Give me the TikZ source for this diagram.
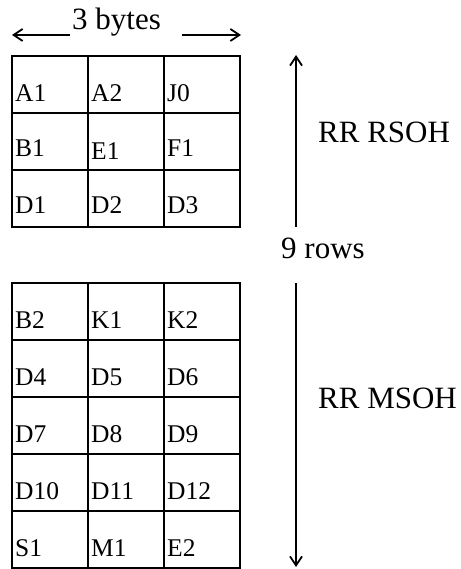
\documentclass[tikz,border=0pt]{standalone}
\usepackage{fontspec}
\setmainfont{Liberation Serif}
\usetikzlibrary{arrows.meta,calc}
\begin{document}
\begin{tikzpicture}[x=1pt,y=-1pt,
  cell/.style={draw, line width=2pt, minimum width=76pt, minimum height=57pt, inner sep=0pt, outer sep=0pt},
  lbl/.style={anchor=base west, inner sep=0pt, font=\fontsize{25.5}{26}\selectfont},
  big/.style={anchor=base west, inner sep=0pt, font=\fontsize{31}{32}\selectfont},
  arr/.style={line width=1.8pt, -{Straight Barb[length=9pt,width=12pt,line width=1.8pt]}}]
\useasboundingbox (0,0) rectangle (460,569);
% top grid
\foreach \r/\y/\a/\b/\c/\ea/\eb/\ec in {1/84.5/A1/A2/J0/11/11/11, 2/141.5/B1/E1/F1/13/10/13, 3/198.5/D1/D2/D3/14/14/14}{
  \node[cell] (t\r a) at (50,\y) {};
  \node[cell] (t\r b) at (126,\y) {};
  \node[cell] (t\r c) at (202,\y) {};
  \node[lbl] (lt\r a) at ($(t\r a.south west)+(3,-\ea)$) {\a};
  \node[lbl] (lt\r b) at ($(t\r b.south west)+(3,-\eb)$) {\b};
  \node[lbl] (lt\r c) at ($(t\r c.south west)+(3,-\ec)$) {\c};
}
% bottom grid
\foreach \r/\y/\a/\b/\c in {1/311.5/B2/K1/K2, 2/368.5/D4/D5/D6, 3/425.5/D7/D8/D9, 4/482.5/D10/D11/D12, 5/539.5/S1/M1/E2}{
  \node[cell] (b\r a) at (50,\y) {};
  \node[cell] (b\r b) at (126,\y) {};
  \node[cell] (b\r c) at (202,\y) {};
  \node[lbl] (lb\r a) at ($(b\r a.south west)+(3,-12)$) {\a};
  \node[lbl] (lb\r b) at ($(b\r b.south west)+(3,-12)$) {\b};
  \node[lbl] (lb\r c) at ($(b\r c.south west)+(3,-12)$) {\c};
}
% labels
\node[big] (bytes) at (72,30) {3 bytes};
\node[big] (rows) at (281,258) {9 rows};
\node[big] (rsoh) at (318,143) {RR RSOH};
\node[big] (msoh) at (318,408) {RR MSOH};
% arrows
\coordinate (l0) at (70,35);
\coordinate (l1) at (12,35);
\coordinate (r0) at (182,35);
\coordinate (r1) at (241,35);
\coordinate (u0) at (296,227);
\coordinate (u1) at (296,55);
\coordinate (d0) at (296,283);
\coordinate (d1) at (296,567);
\draw[arr] (l0) -- (l1);
\draw[arr] (r0) -- (r1);
\draw[arr] (u0) -- (u1);
\draw[arr] (d0) -- (d1);
\end{tikzpicture}
\end{document}
